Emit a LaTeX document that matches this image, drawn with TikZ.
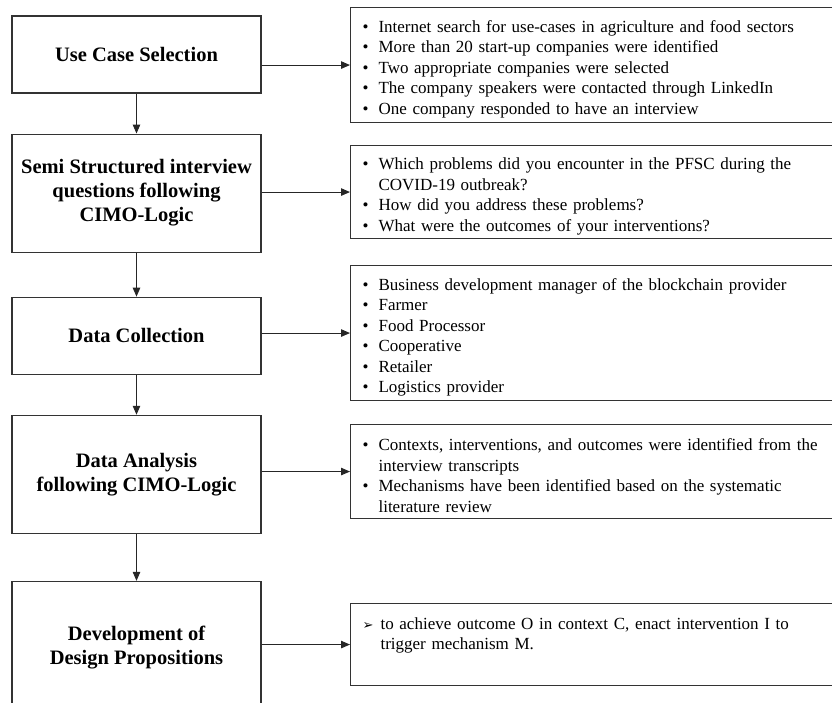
\documentclass[tikz,border=0pt]{standalone}
\usepackage{fontspec}
\setmainfont{Liberation Serif}
\newfontfamily\symfont{DejaVu Sans}
\usetikzlibrary{positioning, arrows.meta}
% one bullet item with hanging indent
\newcommand{\itm}[1]{\par\hangindent=16pt\hangafter=1\noindent\makebox[16pt][l]{\textbullet}#1}
\tikzset{
    >={Triangle[length=9pt,width=7.5pt]}, % filled arrow heads
    stepbox/.style={draw=black!80, line width=1.1pt, minimum width=249pt, align=center,
        font=\bfseries\fontsize{20.5}{24}\selectfont}, % the boxes on the left
    notebox/.style={draw=black!80, line width=1.1pt, anchor=north west, text width=470pt,
        inner xsep=12pt, font=\fontsize{17}{20.5}\selectfont}, % the boxes on the right
    link/.style={->, line width=1pt, black!85}, % all connectors
}

\begin{document}
\begin{tikzpicture}[x=1pt, y=-1pt]
\useasboundingbox (0,0) rectangle (832,703);
% steps
\node[stepbox, minimum height=77pt]                         (usecase)      at (136.5,54.5) {Use Case Selection};
\node[stepbox, minimum height=118pt, below=40pt of usecase]    (interview)    {Semi Structured interview\\questions following\\CIMO-Logic};
\node[stepbox, minimum height=77pt, below=44pt of interview]   (collection)   {Data Collection};
\node[stepbox, minimum height=118pt, below=40pt of collection] (analysis)     {Data Analysis\\following CIMO-Logic};
\node[stepbox, minimum height=132pt, below=47pt of analysis]   (propositions) {Development of\\Design Propositions};
% notes
\node[notebox, minimum height=115pt] (usecasenotes) at (350,7) {%
\itm{Internet search for use-cases in agriculture and food sectors}
\itm{More than 20 start-up companies were identified}
\itm{Two appropriate companies were selected}
\itm{The company speakers were contacted through LinkedIn}
\itm{One company responded to have an interview}\par};
\node[notebox, minimum height=93pt] (interviewnotes) at (350,145) {%
\itm{Which problems did you encounter in the PFSC during the\newline COVID-19 outbreak?}
\itm{How did you address these problems?}
\itm{What were the outcomes of your interventions?}\par};
\node[notebox, minimum height=135pt] (collectionnotes) at (350,265) {%
\itm{Business development manager of the blockchain provider}
\itm{Farmer}
\itm{Food Processor}
\itm{Cooperative}
\itm{Retailer}
\itm{Logistics provider}\par};
\node[notebox, minimum height=94pt] (analysisnotes) at (350,424) {%
\itm{Contexts, interventions, and outcomes were identified from the\newline interview transcripts}
\itm{Mechanisms have been identified based on the systematic\newline literature review}\par};
\node[notebox, minimum height=82pt] (propositionnotes) at (350,603) {%
\par\hangindent=18pt\hangafter=1\noindent\makebox[18pt][l]{\symfont\fontsize{13}{13}\selectfont ➢}%
to achieve outcome O in context C, enact intervention I to\newline trigger mechanism M.\rule[-31pt]{0pt}{1pt}\par};
% connectors
\draw[link] (usecase) -- (interview);
\draw[link] (interview) -- (collection);
\draw[link] (collection) -- (analysis);
\draw[link] (analysis) -- (propositions);
\draw[link] (usecase.east |- usecasenotes.west) -- (usecasenotes.west);
\draw[link] (interview.east |- interviewnotes.west) -- (interviewnotes.west);
\draw[link] (collection.east |- collectionnotes.west) -- (collectionnotes.west);
\draw[link] (analysis.east |- analysisnotes.west) -- (analysisnotes.west);
\draw[link] (propositions.east |- propositionnotes.west) -- (propositionnotes.west);
\end{tikzpicture}
\end{document}
